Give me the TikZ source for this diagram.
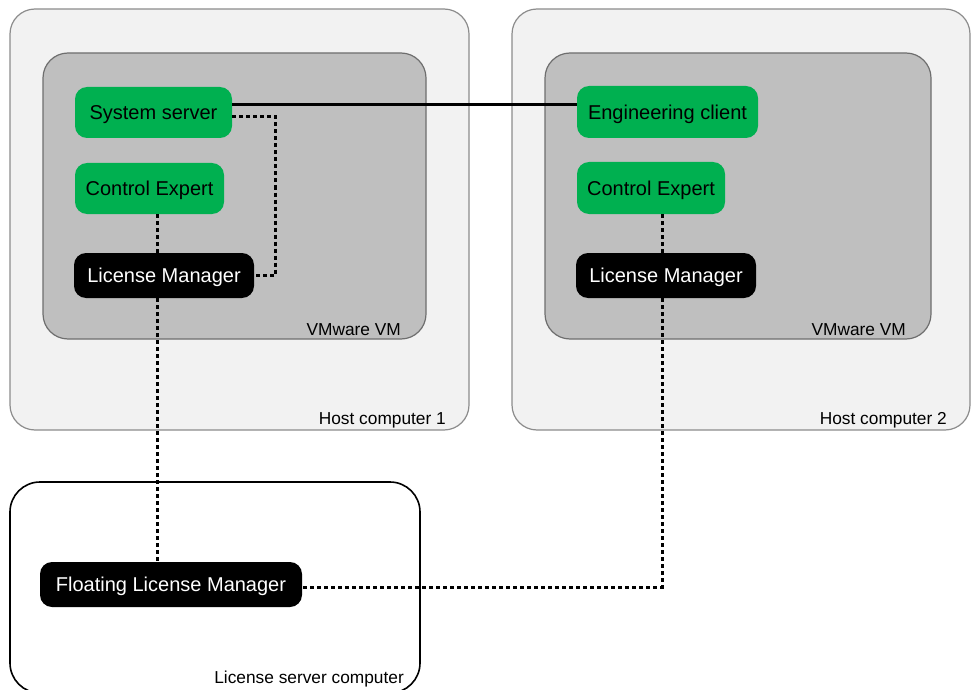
\documentclass[tikz,border=0pt]{standalone}
\usepackage{fontspec}
\setmainfont{Liberation Sans}
\definecolor{hostfill}{HTML}{F2F2F2}
\definecolor{hostline}{HTML}{8C8C8C}
\definecolor{vmfill}{HTML}{BFBFBF}
\definecolor{vmline}{HTML}{6E6E6E}
\definecolor{appgreen}{HTML}{00B050}
\tikzset{
  hostbox/.style={draw=hostline, fill=hostfill, line width=1.2pt, rounded corners=25pt},
  vmbox/.style={draw=vmline, fill=vmfill, line width=1.2pt, rounded corners=25pt},
  serverbox/.style={draw=black, fill=white, line width=1.6pt, rounded corners=30pt},
  app/.style={fill=appgreen, text=black, rounded corners=12pt, inner sep=0pt,
    text height=14.4pt, text depth=0pt, font=\fontsize{20}{24}\selectfont},
  lic/.style={fill=black, text=white, rounded corners=12pt, inner sep=0pt,
    text height=14.4pt, text depth=0pt, font=\fontsize{20}{24}\selectfont},
  boxlabel/.style={anchor=base east, inner sep=0pt, font=\fontsize{17.3}{20}\selectfont},
  link/.style={line width=3pt},
  dotlink/.style={line width=3pt, dash pattern=on 4pt off 3pt},
}
\begin{document}
\begin{tikzpicture}[x=1pt, y=-1pt]
  \useasboundingbox (0,0) rectangle (972,690);

  % host machines and their virtual machines
  \draw[hostbox] (10,9) rectangle (469,430);
  \draw[hostbox] (512,9) rectangle (970,430);
  \draw[vmbox] (43,53) rectangle (426,339);
  \draw[vmbox] (545,53) rectangle (931,339);
  \node[boxlabel] (vmA) at (401,335) {VMware VM};
  \node[boxlabel] (vmB) at (906,335) {VMware VM};
  \node[boxlabel] (hostA) at (446,424) {Host computer 1};
  \node[boxlabel] (hostB) at (947,424) {Host computer 2};

  % license server
  \begin{scope}
    \clip (0,0) rectangle (972,690);
    \draw[serverbox] (10,482) rectangle (420,693);
  \end{scope}
  \node[boxlabel] (srv) at (404,683) {License server computer};

  % applications on host 1
  \node[app, minimum width=157pt, minimum height=51pt] (ss) at (153.5,112.5) {System server};
  \node[app, minimum width=149pt, minimum height=51pt] (ceA) at (149.5,188.5) {Control Expert};
  \node[lic, minimum width=180pt, minimum height=45pt] (lmA) at (164,275.5) {License Manager};

  % applications on host 2
  \node[app, minimum width=181pt, minimum height=52pt] (ec) at (667.5,112) {Engineering client};
  \node[app, minimum width=148pt, minimum height=52pt] (ceB) at (651,188) {Control Expert};
  \node[lic, minimum width=180pt, minimum height=45pt] (lmB) at (666,275.5) {License Manager};

  % floating license manager
  \node[lic, minimum width=262pt, minimum height=45pt] (flm) at (171,584.5) {Floating License Manager};

  % connections
  \draw[link] ([yshift=7.5pt]ss.east) -- ([yshift=7.5pt]ss.east -| ec.west);
  \draw[dotlink] ([yshift=-4pt]ss.east) -- ++(43,0) |- (lmA.east);
  \draw[dotlink] ([xshift=7.5pt]ceA.south) -- ([xshift=7.5pt]ceA.south |- lmA.north);
  \draw[dotlink] ([xshift=-7pt]lmA.south) -- ([xshift=-7pt]lmA.south |- flm.north);
  \draw[dotlink] ([xshift=11pt]ceB.south) -- ([xshift=11pt]ceB.south |- lmB.north);
  \draw[dotlink] ([xshift=-4pt]lmB.south) |- ([yshift=-2.5pt]flm.east);
\end{tikzpicture}
\end{document}
